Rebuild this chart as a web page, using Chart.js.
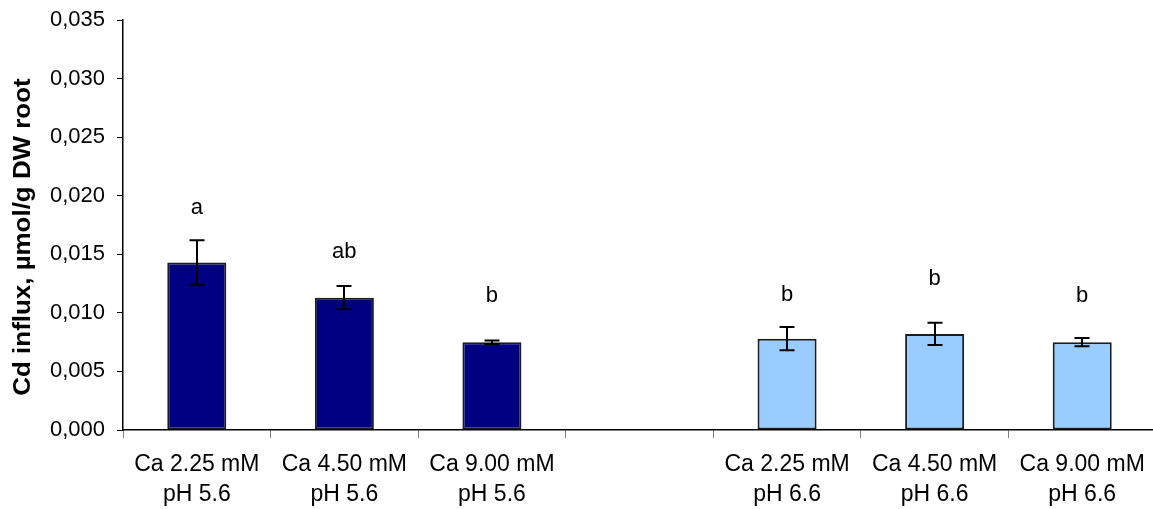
<!DOCTYPE html>
<html>
<head>
<meta charset="utf-8">
<script src="https://cdn.jsdelivr.net/npm/chart.js@4.4.0/dist/chart.umd.min.js"></script>
<style>
  html, body { margin: 0; padding: 0; background: #fff; overflow: hidden; }
  #wrap { position: relative; width: 1156px; height: 509px; }
</style>
</head>
<body>
<div id="wrap"><canvas id="c"></canvas></div>
<script>
// Treatments (the empty slot separates the two pH groups)
const categories = [
  ['Ca 2.25 mM', 'pH 5.6'],
  ['Ca 4.50 mM', 'pH 5.6'],
  ['Ca 9.00 mM', 'pH 5.6'],
  '',
  ['Ca 2.25 mM', 'pH 6.6'],
  ['Ca 4.50 mM', 'pH 6.6'],
  ['Ca 9.00 mM', 'pH 6.6']
];
// Mean Cd influx (µmol/g DW root) and standard error
const influx = [0.0143, 0.0113, 0.0075, null, 0.0078, 0.0082, 0.0075];
const stdErr = [0.0019, 0.0010, 0.00015, null, 0.0010, 0.00095, 0.00035];
// Significance letters and the level (baseline, in data units) they are written at
const letters = ['a', 'ab', 'b', '', 'b', 'b', 'b'];
const letterLevels = [0.0184, 0.0147, 0.0109, null, 0.0110, 0.0124, 0.0109];
const yTicks = [0, 0.005, 0.010, 0.015, 0.020, 0.025, 0.030, 0.035];

const barColors = ['#000080', '#000080', '#000080', '#000080', '#99CCFF', '#99CCFF', '#99CCFF'];
const FONT = '"Liberation Sans", Arial, sans-serif';

const errorBars = {
  id: 'errorBars',
  afterDatasetsDraw(chart) {
    const ctx = chart.ctx;
    const meta = chart.getDatasetMeta(0);
    const y = chart.scales.y;
    ctx.save();
    ctx.strokeStyle = '#000';
    ctx.lineWidth = 2;
    meta.data.forEach((bar, i) => {
      if (influx[i] == null || stdErr[i] == null) return;
      const x = Math.round(bar.x);
      const yTop = y.getPixelForValue(influx[i] + stdErr[i]);
      const yBot = y.getPixelForValue(influx[i] - stdErr[i]);
      const cap = 7.5;
      ctx.beginPath();
      ctx.moveTo(x, yTop); ctx.lineTo(x, yBot);
      ctx.moveTo(x - cap, yTop); ctx.lineTo(x + cap, yTop);
      ctx.moveTo(x - cap, yBot); ctx.lineTo(x + cap, yBot);
      ctx.stroke();
    });
    // significance letters
    ctx.fillStyle = '#000';
    ctx.font = '22px ' + FONT;
    ctx.textAlign = 'center';
    ctx.textBaseline = 'alphabetic';
    meta.data.forEach((bar, i) => {
      if (!letters[i] || letterLevels[i] == null) return;
      ctx.fillText(letters[i], bar.x, y.getPixelForValue(letterLevels[i]));
    });
    // vertical axis title
    ctx.font = 'bold 24px ' + FONT;
    ctx.textBaseline = 'middle';
    ctx.translate(23, 237);
    ctx.rotate(-Math.PI / 2);
    ctx.scale(1.08, 1);
    ctx.fillText('Cd influx, µmol/g DW root', 0, 0);
    ctx.restore();
  }
};

new Chart(document.getElementById('c'), {
  type: 'bar',
  data: {
    labels: categories,
    datasets: [{
      data: influx,
      backgroundColor: barColors,
      borderColor: '#1c1c1c',
      borderWidth: 2,
      borderSkipped: false,
      categoryPercentage: 1,
      barPercentage: 0.4
    }]
  },
  options: {
    responsive: true,
    maintainAspectRatio: false,
    animation: false,
    devicePixelRatio: 1,
    layout: { padding: { top: 20, right: 0, bottom: 0, left: 0 } },
    plugins: { legend: { display: false }, tooltip: { enabled: false } },
    scales: {
      x: {
        offset: true,
        grid: { offset: true, drawOnChartArea: false, drawTicks: true, tickLength: 8, color: '#808080' },
        border: { color: '#000', width: 1.5 },
        ticks: { color: '#000', font: { family: FONT, size: 23, lineHeight: 1.3 }, padding: 12, maxRotation: 0, autoSkip: false },
        afterFit(s) { s.height = 79; s.paddingLeft = 0; s.paddingRight = 0; }
      },
      y: {
        min: 0, max: 0.035,
        afterBuildTicks(s) { s.ticks = yTicks.map(v => ({ value: v })); },
        grid: { drawOnChartArea: false, drawTicks: true, tickLength: 6, color: '#000' },
        border: { color: '#000', width: 1.5 },
        ticks: {
          color: '#000', font: { family: FONT, size: 22 }, padding: 12,
          callback: v => Number(v).toFixed(3).replace('.', ',')
        },
        afterFit(s) { s.width = 123; s.paddingTop = 0; s.paddingBottom = 0; }
      }
    }
  },
  plugins: [errorBars]
});
</script>
</body>
</html>
